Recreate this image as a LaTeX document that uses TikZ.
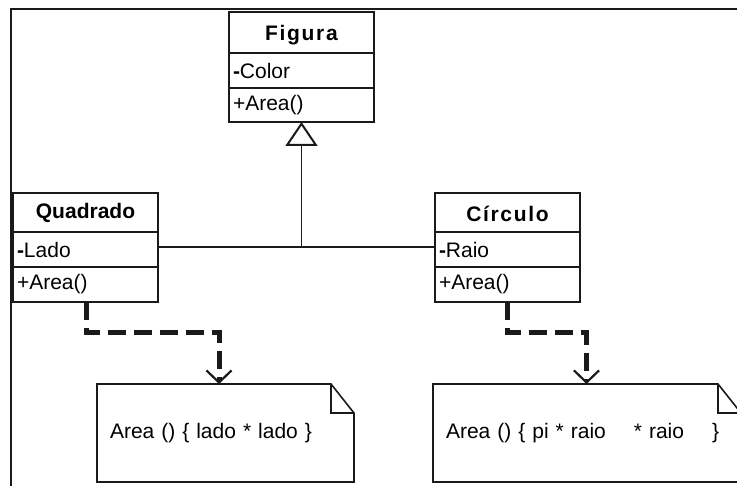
\documentclass[tikz,border=0pt]{standalone}
\usepackage{fontspec}
\setmainfont{Liberation Sans}
\usetikzlibrary{arrows.meta}
\definecolor{ink}{HTML}{1A1A1A}
\tikzset{
  cell/.style={draw=ink, line width=2pt, inner sep=0pt, outer sep=0pt, anchor=north west,
    text width=137pt, inner xsep=4pt, align=left, minimum height=#1,
    font=\fontsize{21}{25}\selectfont},
  titlecell/.style={draw=ink, line width=2pt, inner sep=0pt, outer sep=0pt, anchor=north west,
    minimum width=145pt, minimum height=#1, align=center,
    font=\fontsize{21}{25}\selectfont\bfseries},
  notebox/.style={inner sep=0pt, inner xsep=13pt, outer sep=0pt, anchor=north west,
    minimum height=98pt, align=left, font=\fontsize{21}{25}\selectfont},
  noteline/.style={draw=ink, line width=1.6pt},
  assoc/.style={draw=ink, line width=1.6pt},
  gen/.style={draw=ink, line width=1.6pt,
    -{Triangle[open, length=24pt, width=32pt, line width=2pt 0]}},
  dep/.style={draw=ink, line width=5pt, dash pattern=on 18pt off 8pt,
    -{Straight Barb[length=12pt, width=25pt, line width=2.2pt 0]}},
}
\begin{document}
\begin{tikzpicture}[x=1pt,y=-1pt]
\useasboundingbox (0,0) rectangle (737,486);
\clip (0,0) rectangle (737,486);
% frame
\draw[ink, line width=2pt] (737,9) -- (11,9) -- (11,486);
% Figura
\node[titlecell=41pt] (figT) at (229,12) {\rule{0pt}{21pt}\addfontfeature{LetterSpace=8}Figura};
\node[cell=35pt] (figA) at (figT.south west) {\textbf{-}Color};
\node[cell=34pt] (figM) at (figA.south west) {+Area()};
% Quadrado
\node[titlecell=39pt] (quaT) at (13,193) {Quadrado};
\node[cell=35pt] (quaA) at (quaT.south west) {\textbf{-}Lado};
\node[cell=35pt] (quaM) at (quaA.south west) {+Area()};
% Circulo
\node[titlecell=39pt] (cirT) at (435,193) {\rule{0pt}{19pt}\addfontfeature{LetterSpace=8}Círculo};
\node[cell=35pt] (cirA) at (cirT.south west) {\textbf{-}Raio};
\node[cell=35pt] (cirM) at (cirA.south west) {+Area()};
% notes
\node[notebox, text width=231pt] (n1) at (97,384) {Area () \{ lado * lado \}};
\node[notebox, text width=282pt] (n2) at (433,384) {Area () \{ pi * raio \ \ \ * raio \ \ \ \}};
\foreach \n in {n1,n2}{
  \draw[noteline] (\n.south west) -- (\n.north west) -- ([xshift=-23pt]\n.north east)
    -- ([yshift=-29pt]\n.north east) -- (\n.south east) -- cycle;
  \draw[noteline] ([xshift=-23pt]\n.north east) |- ([yshift=-29pt]\n.north east);
}
% generalization
\coordinate (j) at (figM.south |- 0,247);
\draw[assoc] (quaA.east |- j) -- (cirA.west |- j);
\draw[gen] (j) -- (figM.south);
% dependencies
\draw[dep] ([xshift=1pt]quaM.south) -- ++(0,31) -| ([xshift=-6.5pt]n1.north);
\draw[dep] (cirM.south) -- ++(0,31) -| ([xshift=-0.5pt]n2.north);
\end{tikzpicture}
\end{document}
